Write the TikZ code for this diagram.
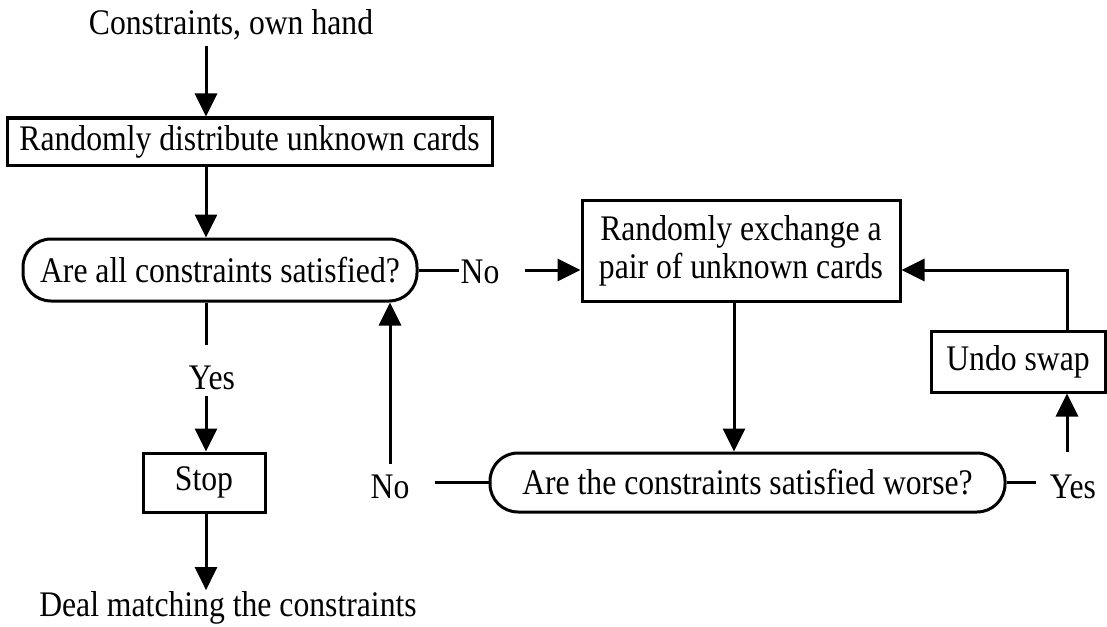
\documentclass[tikz,border=0pt]{standalone}
\usepackage{fontspec}
\setmainfont[FakeStretch=0.88]{Liberation Serif}
\usetikzlibrary{arrows.meta}

\begin{document}
\begin{tikzpicture}[x=0.5pt,y=-0.5pt,line width=1.5pt,
  every node/.style={font=\fontsize{18}{19}\selectfont},
  proc/.style={draw,rectangle,inner sep=0pt},
  test/.style={draw,rectangle,rounded corners=14pt,inner sep=0pt},
  lbl/.style={inner sep=0pt},
  >={Triangle[length=11.5pt,width=11pt]}]
  \useasboundingbox (0,0) rectangle (1107,626);
  \coordinate (col) at (206,0);
  \coordinate (mid) at (734,0);
  \coordinate (rcol) at (1067,0);
  \node[lbl] (start) at (231,25) {Constraints, own hand};
  \node[proc,minimum width=242.5pt,minimum height=23.5pt] (distrib) at (249.5,141.5) {Randomly distribute unknown cards};
  \node[test,minimum width=197pt,minimum height=31pt] (allok) at (220,270) {Are all constraints satisfied?};
  \node[lbl] (noA) at (480,272) {No};
  \node[proc,minimum width=159pt,minimum height=50.5pt,align=center] (swap) at (741,250.5) {Randomly exchange a\\pair of unknown cards};
  \node[proc,minimum width=87pt,minimum height=30.5pt] (undo) at (1018,361.5) {Undo swap};
  \node[test,minimum width=257.5pt,minimum height=29.5pt] (worse) at (747.5,482.5) {Are the constraints satisfied worse?};
  \node[lbl] (noB) at (390,487) {No};
  \node[lbl] (yesA) at (212,378) {Yes};
  \node[lbl] (yesB) at (1073,487) {Yes};
  \node[proc,minimum width=61pt,minimum height=29.5pt] (stop) at (204,482.5) {Stop};
  \node[lbl] (deal) at (228,608) {Deal matching the constraints};
  \path[->]
    (start.south -| col) edge [shorten <=2pt] (distrib.north -| col)
    (distrib.south -| col) edge (allok.north -| col)
    (noA.east |- allok.east) edge [shorten <=12pt] (swap.west |- allok.east)
    (swap.south -| mid) edge (worse.north -| mid)
    (yesB.north -| rcol) edge [shorten <=11pt] (undo.south -| rcol)
    (noB.north) edge [shorten <=5pt] (allok.south -| noB)
    (yesA.south -| col) edge [shorten <=2.5pt] (stop.north -| col)
    (stop.south -| col) edge (deal.north -| col);
  \draw (allok.east) -- (noA.west |- allok.east);
  \draw (worse.east) -- (yesB.west |- worse.east) [shorten >=6pt];
  \draw (worse.west) -- (noB.east |- worse.west) [shorten >=12pt];
  \draw (allok.south -| col) -- (yesA.north -| col) [shorten >=10pt];
  \draw[->] (undo.north -| rcol) |- (swap.east |- allok.east);
\end{tikzpicture}
\end{document}
